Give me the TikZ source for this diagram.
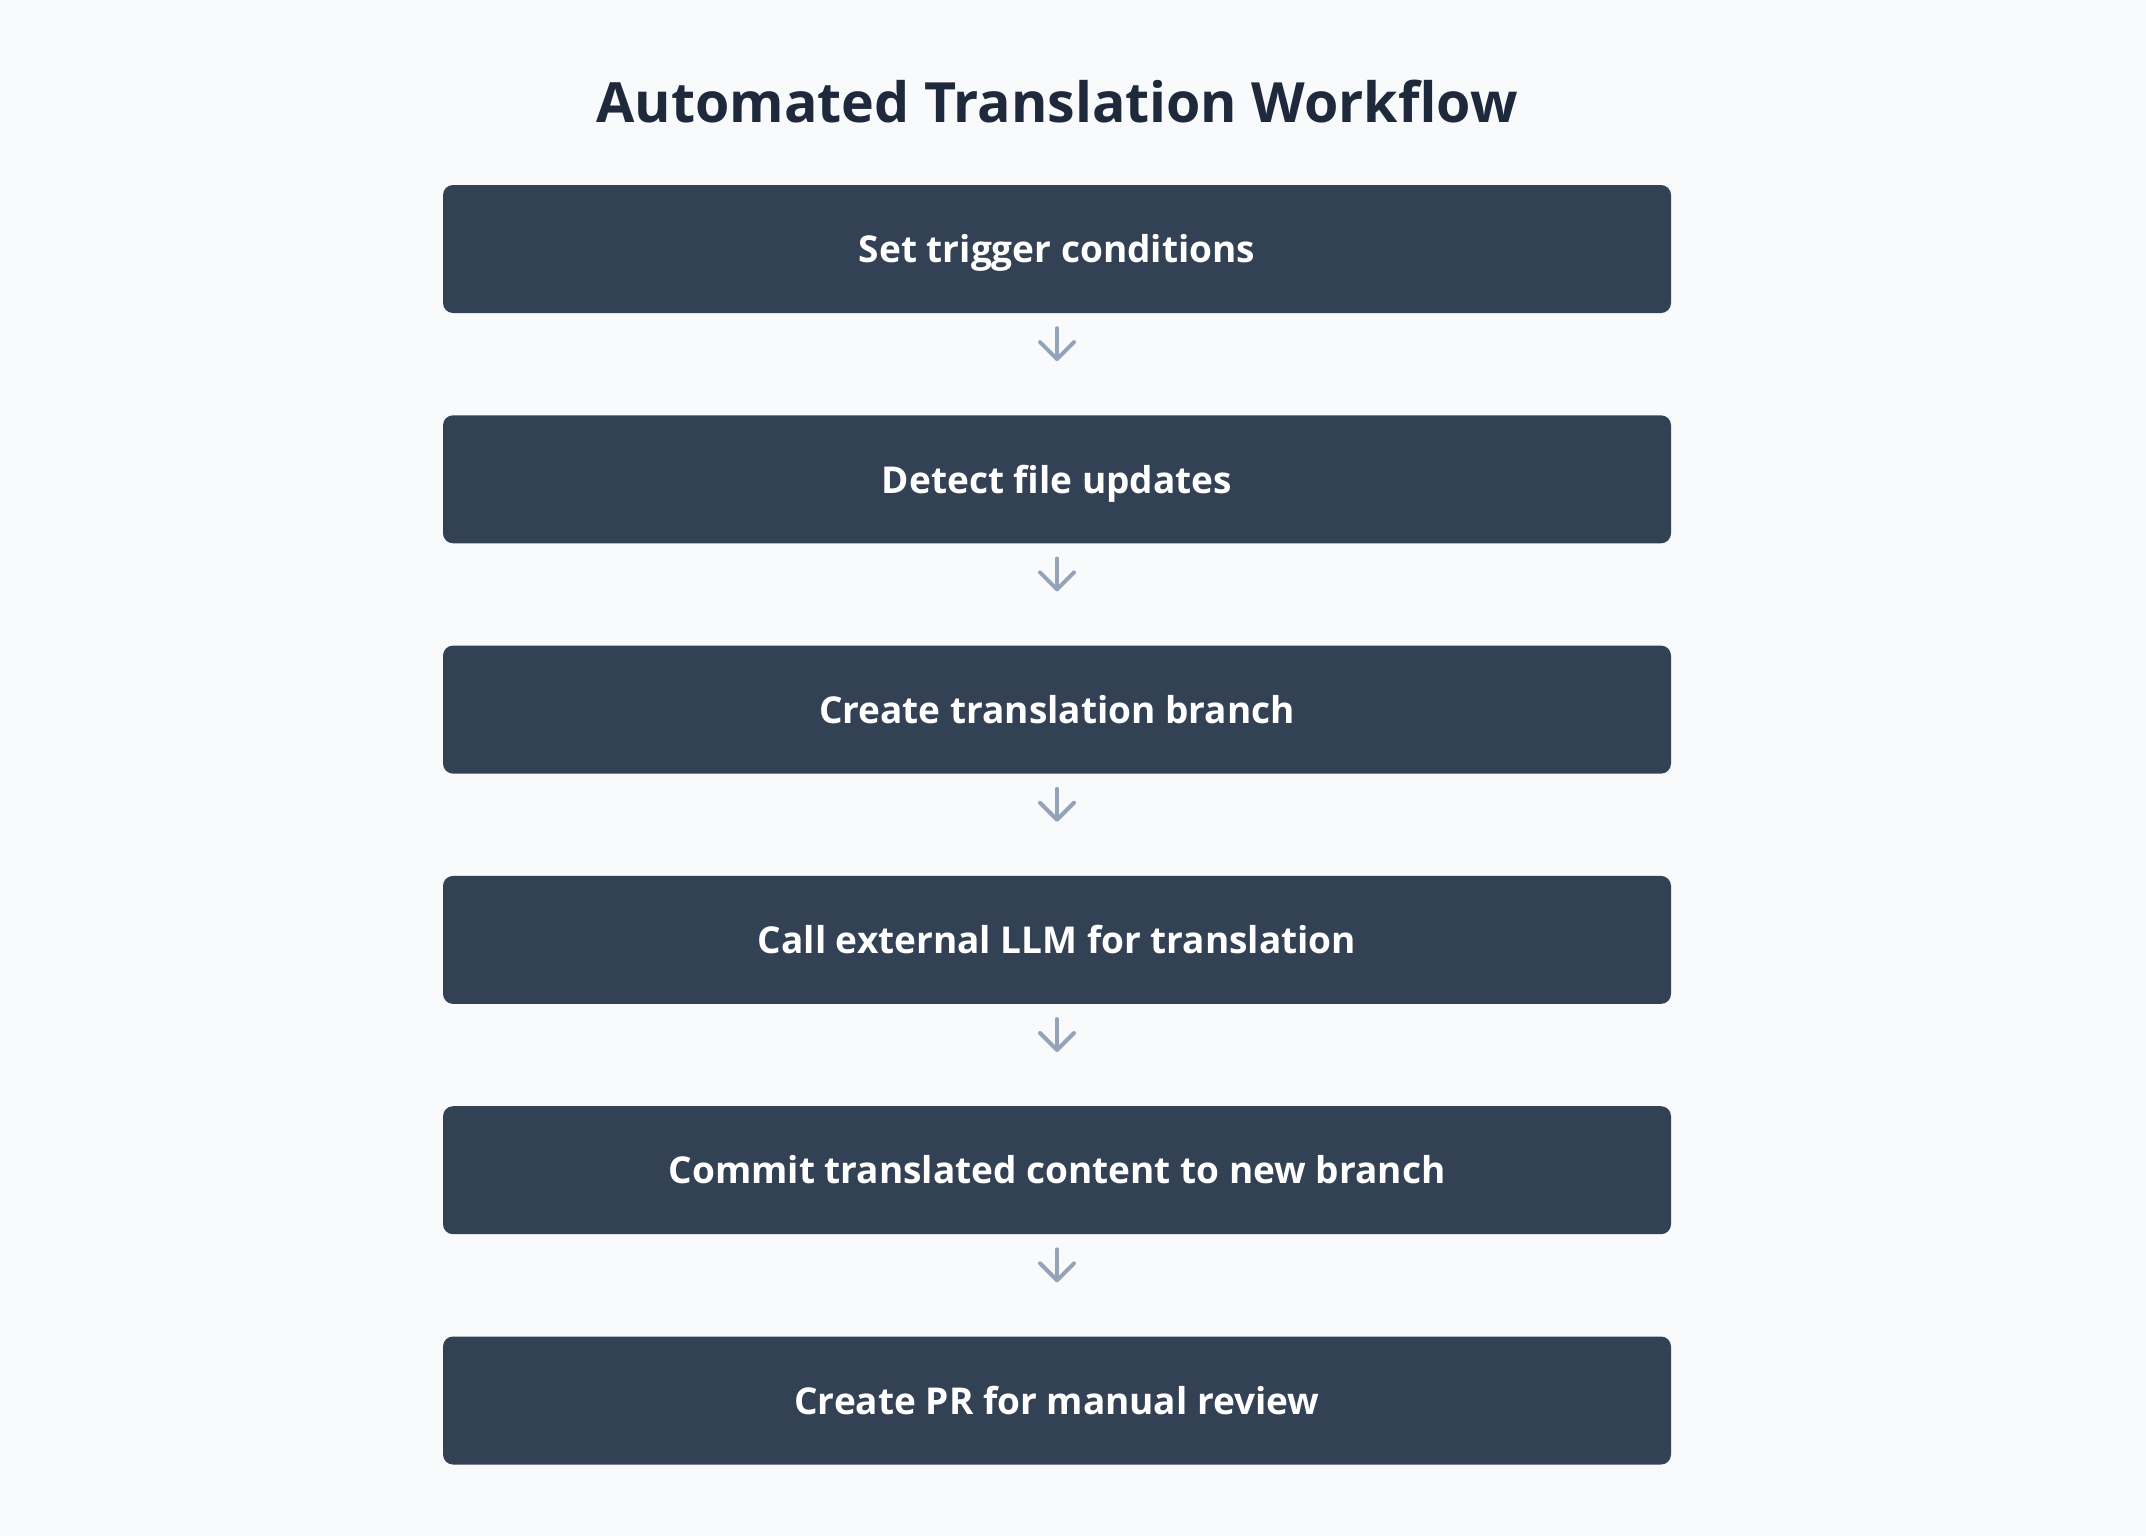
\documentclass[tikz,border=0pt]{standalone}
\usepackage{fontspec}
\setmainfont{Open Sans}
\usepackage{tikz}
\usetikzlibrary{arrows.meta, positioning}
\definecolor{pagebg}{HTML}{F8FAFC}
\definecolor{boxfill}{HTML}{334155}
\definecolor{titlecol}{HTML}{1E293B}
\definecolor{arrowcol}{HTML}{94A3B8}
\tikzstyle{flowarrow} = [line width=4pt, line cap=round, arrowcol, -{Straight Barb[length=17pt, width=34pt, round]}]

\begin{document}
\begin{tikzpicture}[
    x=1pt, y=1pt,
    stepbox/.style={rectangle, rounded corners=10pt, fill=boxfill, text=white, minimum width=1228pt, minimum height=128pt, inner sep=0pt, text height=27.5pt, text depth=0pt, font=\fontsize{37}{44}\selectfont\bfseries},
    titlebox/.style={text=titlecol, inner sep=0pt, font=\fontsize{55.5}{66}\selectfont\bfseries},
]

% Background
\fill[pagebg] (0, 0) rectangle (2146, -1536);

% Title
\node[titlebox, anchor=base] (title) at (1057, -123) {Automated Translation Workflow};

% Steps
\foreach \i/\txt in {1/Set trigger conditions, 2/Detect file updates, 3/Create translation branch, 4/Call external LLM for translation, 5/Commit translated content to new branch, 6/Create PR for manual review} {
    \node[stepbox] (step\i) at (1057, {-249 - 230.3*(\i-1)}) {\txt};
}

% Arrows
\foreach \i/\j in {1/2, 2/3, 3/4, 4/5, 5/6} {
    \draw[flowarrow, shorten <=15pt, shorten >=54pt] (step\i.south) -- (step\j.north);
}

\end{tikzpicture}
\end{document}
